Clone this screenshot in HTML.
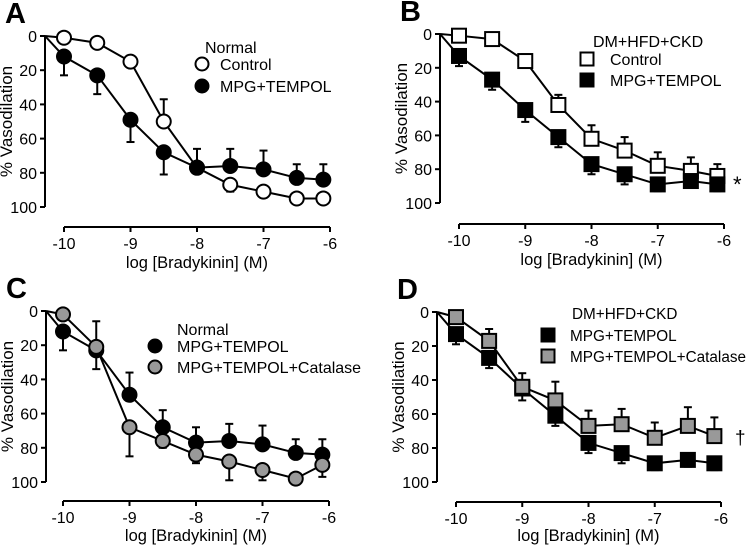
<!DOCTYPE html>
<html><head><meta charset="utf-8"><style>
body{margin:0;background:#fff;}
svg{display:block;font-family:"Liberation Sans",Arial,sans-serif;}
</style></head><body>
<svg id="fig" width="750" height="546" viewBox="0 0 750 546" xmlns="http://www.w3.org/2000/svg"></svg>
<script>
// shared data
const xValues = [-10, -9.5, -9, -8.5, -8, -7.5, -7, -6.5, -6.1];
const xTicks = [-10, -9, -8, -7, -6];
const yTicks = [0, 20, 40, 60, 80, 100];
// Panel A
const aControl = [1, 4, 15, 50, 77, 87, 91, 95, 95];
const aControlErr = [0, -2, -3, -13, 0, 4, 0, 0, 0];
const aMpg = [12, 23, 49, 68, 77, 76, 78, 83, 84];
const aMpgErr = [11, 11, 13, 13, -11, -10, -11, -8, -9];
// Panel B
const bControl = [1, 3, 16, 42, 62, 69, 78, 81, 84];
const bControlErr = [0, 0, -4, -6, -8, -8, -8, -8, -7];
const bMpg = [13, 27, 45, 61, 77, 83, 89, 87, 89];
const bMpgErr = [6, 6, 7, 6, 6, 6, 4, 4, 4];
// Panel C
const cMpg = [12, 23, 49, 68, 77, 76, 78, 83, 84];
const cMpgErr = [11, 11, -13, -10, -9, -10, -11, -8, -9];
const cCat = [2, 21, 68, 76, 84, 88, 93, 98, 90];
const cCatErr = [0, -15, 17, 4, 5, 11, 6, 0, 7];
// Panel D
const dMpg = [13, 27, 45, 61, 77, 83, 89, 87, 89];
const dMpgErr = [6, 6, 7, 6, 6, 6, 4, 4, 4];
const dCat = [3, 17, 44, 52, 67, 66, 74, 67, 73];
const dCatErr = [0, -7, -8, -11, -9, -9, -9, -11, -11];

const NS = "http://www.w3.org/2000/svg";
const svg = document.getElementById('fig');
function el(tag, attrs, parent, text){
  const e = document.createElementNS(NS, tag);
  for (const k in attrs) e.setAttribute(k, attrs[k]);
  if (text !== undefined) e.textContent = text;
  (parent || svg).appendChild(e);
  return e;
}

const panels = [
  {id:'a', letter:'A', axX:45, y0:36, y100:207, xAxY:227, xL:64, xR:330, xtY:268, legFs:16,
   legTitle:'Normal', legTitleX:205, legTitleY:53, legMX:202, legTX:220, legY:[64,86],
   series:[{name:'control', vals:aControl, err:aControlErr, shape:'circle', fill:'#fff', label:'Control'},
           {name:'mpg-tempol', vals:aMpg, err:aMpgErr, shape:'circle', fill:'#000', label:'MPG+TEMPOL'}]},
  {id:'b', letter:'B', axX:440, y0:34, y100:203, xAxY:224, xL:459, xR:724, xtY:265, legFs:16,
   legTitle:'DM+HFD+CKD', legTitleX:593, legTitleY:47, legMX:587, legTX:610, legY:[59,80],
   mark:{t:'*', x:733, y:192, size:22},
   series:[{name:'control', vals:bControl, err:bControlErr, shape:'square', fill:'#fff', label:'Control'},
           {name:'mpg-tempol', vals:bMpg, err:bMpgErr, shape:'square', fill:'#000', label:'MPG+TEMPOL'}]},
  {id:'c', letter:'C', axX:46, y0:311, y100:482, xAxY:501, xL:63, xR:329, xtY:541, legFs:16,
   legTitle:'Normal', legTitleX:177, legTitleY:335, legMX:155, legTX:177, legY:[346,367],
   series:[{name:'mpg-tempol', vals:cMpg, err:cMpgErr, shape:'circle', fill:'#000', label:'MPG+TEMPOL'},
           {name:'mpg-tempol-catalase', vals:cCat, err:cCatErr, shape:'circle', fill:'#999', label:'MPG+TEMPOL+Catalase'}]},
  {id:'d', letter:'D', axX:437, y0:312, y100:482, xAxY:502, xL:456, xR:721, xtY:541, legFs:15.3,
   legTitle:'DM+HFD+CKD', legTitleX:572, legTitleY:319, legMX:548, legTX:570, legY:[335,356],
   mark:{t:'†', x:735, y:444, size:19},
   series:[{name:'mpg-tempol', vals:dMpg, err:dMpgErr, shape:'square', fill:'#000', label:'MPG+TEMPOL'},
           {name:'mpg-tempol-catalase', vals:dCat, err:dCatErr, shape:'square', fill:'#999', label:'MPG+TEMPOL+Catalase'}]}
];

panels.forEach(p => {
  const g = el('g', {});
  
  
  const xs = v => p.xL + (v + 10) / 4 * (p.xR - p.xL);
  const ys = v => p.y0 + v / 100 * (p.y100 - p.y0);

  const lt = el('text', {x: p.axX - 40, y: p.y0 - 13, 'font-size': 29, 'font-weight': 'bold'}, g, p.letter);
  
  

  const ya = el('g', {}, g);
  
  
  el('line', {x1: p.axX, y1: p.y0, x2: p.axX, y2: p.y100, stroke: '#000', 'stroke-width': 2}, ya);
  yTicks.forEach(t => {
    el('line', {x1: p.axX - 5, y1: ys(t), x2: p.axX, y2: ys(t), stroke: '#000', 'stroke-width': 2}, ya);
    const tl = el('text', {x: p.axX - 8, y: ys(t) + 6, 'font-size': 16, 'text-anchor': 'end'}, ya, t);
    
    
  });
  const yt = el('text', {x: 0, y: 0, 'font-size': 17, 'text-anchor': 'middle',
    transform: `translate(${p.axX - 33},${(p.y0 + p.y100) / 2}) rotate(-90)`}, ya, '% Vasodilation');
  
  

  const xa = el('g', {}, g);
  
  
  el('line', {x1: p.xL, y1: p.xAxY, x2: p.xR, y2: p.xAxY, stroke: '#000', 'stroke-width': 2}, xa);
  xTicks.forEach(t => {
    el('line', {x1: xs(t), y1: p.xAxY, x2: xs(t), y2: p.xAxY + 5, stroke: '#000', 'stroke-width': 2}, xa);
    const tl = el('text', {x: xs(t), y: p.xAxY + 22, 'font-size': 16, 'text-anchor': 'middle'}, xa, t);
    
    
  });
  const xt = el('text', {x: (p.xL + p.xR) / 2, y: p.xtY, 'font-size': 16.5, 'text-anchor': 'middle'}, xa, 'log [Bradykinin] (M)');
  
  

  p.series.forEach(s => {
    const sg = el('g', {}, g);
    
    
    let d = `M${p.axX},${p.y0}`;
    s.vals.forEach((v, i) => { d += ` L${xs(xValues[i])},${ys(v)}`; });
    el('path', {d: d, fill: 'none', stroke: '#000', 'stroke-width': 2}, sg);
    s.vals.forEach((v, i) => {
      const e = s.err[i];
      if (e !== 0) {
        const x = xs(xValues[i]);
        const y2 = ys(v + e);
        const eb = el('g', {}, sg);
        
        
        el('line', {x1: x, y1: ys(v), x2: x, y2: y2, stroke: '#000', 'stroke-width': 2}, eb);
        el('line', {x1: x - 4, y1: y2, x2: x + 4, y2: y2, stroke: '#000', 'stroke-width': 2}, eb);
      }
    });
    s.vals.forEach((v, i) => {
      const x = xs(xValues[i]), y = ys(v);
      let m;
      if (s.shape === 'circle') m = el('circle', {cx: x, cy: y, r: 7, fill: s.fill, stroke: '#000', 'stroke-width': 2}, sg);
      else m = el('rect', {x: x - 7, y: y - 7, width: 14, height: 14, fill: s.fill, stroke: '#000', 'stroke-width': 2}, sg);
      
      
    });
  });

  const lg = el('g', {}, g);
  
  
  const ltt = el('text', {x: p.legTitleX, y: p.legTitleY, 'font-size': p.legFs}, lg, p.legTitle);
  
  
  p.series.forEach((s, i) => {
    const le = el('g', {}, lg);
    
    
    const y = p.legY[i];
    if (s.shape === 'circle') el('circle', {cx: p.legMX, cy: y, r: 6.5, fill: s.fill, stroke: '#000', 'stroke-width': 2}, le);
    else el('rect', {x: p.legMX - 6.5, y: y - 6.5, width: 13, height: 13, fill: s.fill, stroke: '#000', 'stroke-width': 2}, le);
    el('text', {x: p.legTX, y: y + 6, 'font-size': p.legFs}, le, s.label);
  });

  if (p.mark) {
    const mk = el('text', {x: p.mark.x, y: p.mark.y, 'font-size': p.mark.size}, g, p.mark.t);
    
    
  }
});
</script>
</body></html>
